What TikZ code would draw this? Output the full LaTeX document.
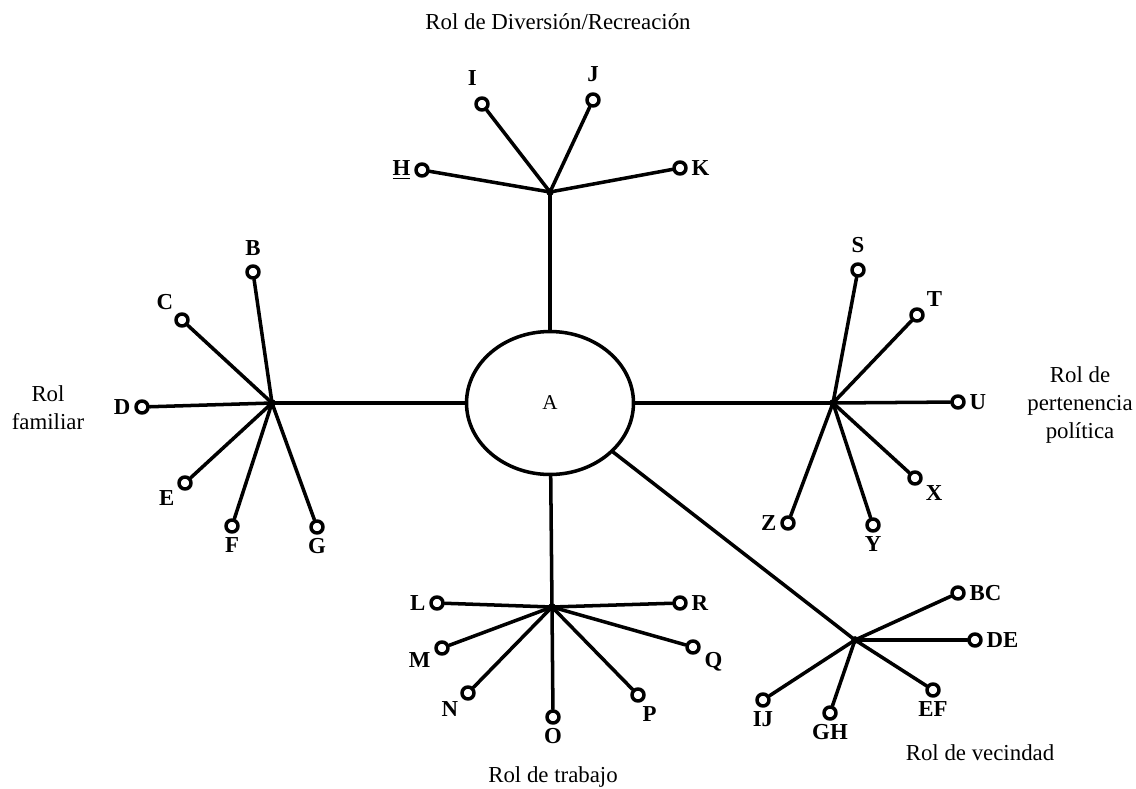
\documentclass[tikz,border=0pt]{standalone}
\usepackage{fontspec}
\setmainfont{Liberation Serif}
\usepackage{tikz}
\usetikzlibrary{shapes.geometric}

\tikzset{
	leaf/.style={circle, draw, line width=2pt, minimum size=0.24cm, inner sep=0pt},
	link/.style={line width=2pt},
	role/.style={align=center, font=\fontsize{13}{16}\selectfont}
}

\begin{document}
\begin{tikzpicture}[
		x=0.02cm, y=-0.02cm,
		line join=round, line cap=round,
		every label/.style={font=\fontsize{13}{15}\selectfont\bfseries, inner sep=2pt},
		label distance=0pt
	]
	\useasboundingbox (0,0) rectangle (1136,788);

	% Centre
	\node[ellipse, draw, line width=2pt, minimum width=3.34cm, minimum height=2.86cm,
		font=\fontsize{12}{14}\selectfont] (A) at (550,403) {A};

	% Hubs
	\coordinate (hubT) at (550,192);
	\coordinate (hubL) at (272,403);
	\coordinate (hubR) at (833,403);
	\coordinate (hubB) at (552,607);
	\coordinate (hubV) at (855,640);

	\foreach \h in {hubT,hubL,hubR,hubB,hubV}{
			\draw[link] (\h) -- (A);
			\fill (\h) circle (2.2pt);
		}

	% Diversion / recreation
	\foreach \n/\t/\x/\y/\a in {
			H/\underline{H}/422/170/180,
			I/I/482/104/95,
			J/J/593/100/90,
			K/K/680/168/0}{
			\node[leaf, label={[label distance={\a==90 || \a==95 ? 4pt : 0pt}]\a:\t}] (\n) at (\x,\y) {};
			\draw[link] (hubT) -- (\n);
		}

	% Family
	\foreach \n/\x/\y/\a in {
			B/253/272/90,
			C/182/320/130,
			D/142/407/180,
			E/185/483/210,
			F/232/526/-90,
			G/317/527/-90}{
			\node[leaf, label={[label distance={\a==90 ? 3pt : 0pt}]\a:\n}] (\n) at (\x,\y) {};
			\draw[link] (hubL) -- (\n);
		}

	% Political
	\foreach \n/\x/\y/\a in {
			S/858/270/90,
			T/917/315/40,
			U/958/402/0,
			X/915/478/-25,
			Y/873/525/-90,
			Z/788/523/180}{
			\node[leaf, label={[label distance={\a==90 ? 3pt : 0pt}]\a:\n}] (\n) at (\x,\y) {};
			\draw[link] (hubR) -- (\n);
		}

	% Work
	\foreach \n/\x/\y/\a in {
			L/437/603/180,
			R/680/603/0,
			M/442/648/185,
			Q/693/647/-10,
			N/468/693/-140,
			O/553/717/-90,
			P/638/695/-85}{
			\node[leaf, label={\a:\n}] (\n) at (\x,\y) {};
			\draw[link] (hubB) -- (\n);
		}

	% Neighbourhood
	\foreach \n/\x/\y/\a in {
			BC/958/593/0,
			DE/975/640/0,
			EF/933/690/-90,
			GH/830/713/-90,
			IJ/763/700/-90}{
			\node[leaf, label={\a:\n}] (\n) at (\x,\y) {};
			\draw[link] (hubV) -- (\n);
		}

	% Role names
	\node[role] (rolT) at (558,22) {Rol de Diversión/Recreación};
	\node[role] (rolL) at (48,408) {Rol\\familiar};
	\node[role] (rolR) at (1080,405) {Rol de\\pertenencia\\política};
	\node[role] (rolB) at (553,777) {Rol de trabajo};
	\node[role] (rolV) at (980,753) {Rol de vecindad};
\end{tikzpicture}
\end{document}
